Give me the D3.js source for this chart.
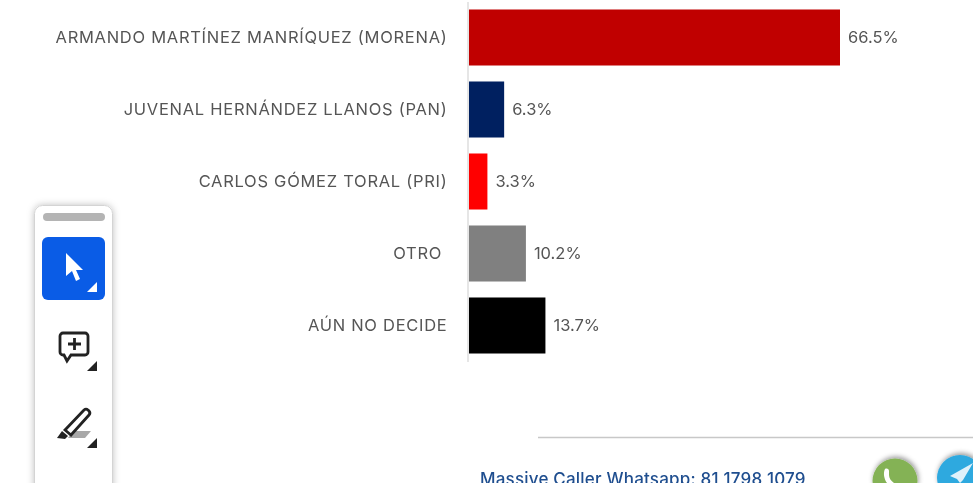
<!DOCTYPE html>
<html>
<head>
<meta charset="utf-8">
<script src="https://d3js.org/d3.v7.min.js"></script>
<style>
  html, body { margin: 0; padding: 0; background: #fff; overflow: hidden; }
  svg { display: block; filter: blur(0.6px); }
  text { font-family: Inter, "Open Sans", sans-serif; }
</style>
</head>
<body>
<div id="chart"></div>
<script>
var candidates = [
  "ARMANDO MARTÍNEZ MANRÍQUEZ (MORENA)",
  "JUVENAL HERNÁNDEZ LLANOS (PAN)",
  "CARLOS GÓMEZ TORAL (PRI)",
  "OTRO ",
  "AÚN NO DECIDE"
];
var percents = [66.5, 6.3, 3.3, 10.2, 13.7];
var barColors = ["#c00000", "#002060", "#ff0000", "#808080", "#000000"];

var width = 980, height = 483;
var svg = d3.select("#chart").append("svg")
  .attr("width", width)
  .attr("height", height);

var xScale = d3.scaleLinear().domain([0, 66.5]).range([469, 840]);
var yScale = d3.scaleBand().domain(candidates).range([1.5, 361.5]).paddingInner(0.222).paddingOuter(0.111);

// axis with the category labels
var yAxis = svg.append("g")
  .attr("transform", "translate(467.5,0)")
  .call(d3.axisLeft(yScale).tickSize(0).tickPadding(20));
yAxis.select(".domain").attr("stroke", "#dedede").attr("stroke-width", 1.5);
yAxis.selectAll("text")
  .attr("fill", "#555")
  .attr("dy", "0.36em")
  .style("font-size", "16.5px")
  .style("font-family", "Inter, sans-serif")
  .style("letter-spacing", "0.72px")
  .style("white-space", "pre")
  .text(function(d) { return d; });

svg.selectAll(".bar").data(percents).enter().append("rect")
  .attr("class", "bar")
  .attr("x", xScale(0))
  .attr("y", function(d, i) { return yScale(candidates[i]); })
  .attr("width", function(d) { return xScale(d) - xScale(0); })
  .attr("height", yScale.bandwidth())
  .attr("fill", function(d, i) { return barColors[i]; });

svg.selectAll(".pct").data(percents).enter().append("text")
  .attr("class", "pct")
  .attr("x", function(d) { return xScale(d) + 8; })
  .attr("y", function(d, i) { return yScale(candidates[i]) + yScale.bandwidth() / 2; })
  .attr("dy", "0.34em")
  .attr("fill", "#555")
  .style("font-size", "16.5px")
  .text(function(d) { return d.toFixed(1) + "%"; });

// footer of the page behind the chart
svg.append("line")
  .attr("x1", 538).attr("x2", 980)
  .attr("y1", 437.5).attr("y2", 437.5)
  .attr("stroke", "#c8c8c8").attr("stroke-width", 1.5);

svg.append("text")
  .attr("x", 480).attr("y", 484.5)
  .attr("fill", "#1f4e8f")
  .style("font-size", "17px")
  .style("font-weight", 500)
  .style("letter-spacing", "0.2px")
  .text("Massive Caller Whatsapp: 81 1798 1079");

var defs = svg.append("defs");
defs.append("filter").attr("id", "soft").attr("x", "-40%").attr("y", "-40%").attr("width", "180%").attr("height", "180%")
  .append("feDropShadow")
  .attr("dx", 0).attr("dy", 0).attr("stdDeviation", 3.5).attr("flood-color", "#000").attr("flood-opacity", 0.25);
defs.append("filter").attr("id", "iconShadow").attr("x", "-40%").attr("y", "-40%").attr("width", "180%").attr("height", "180%")
  .append("feDropShadow")
  .attr("dx", 1).attr("dy", -2).attr("stdDeviation", 2.5).attr("flood-color", "#000").attr("flood-opacity", 0.4);

svg.append("circle").attr("cx", 895).attr("cy", 481).attr("r", 22.5).attr("fill", "#84b254").attr("filter", "url(#iconShadow)");
svg.append("path").attr("d", "M885 469c2-1 4 0 4 2l0 4c0 3 2 6 5 8h-7c-3-4-4-10-2-14z").attr("fill", "#fff");
svg.append("circle").attr("cx", 960).attr("cy", 478).attr("r", 23).attr("fill", "#2ea9df").attr("filter", "url(#iconShadow)");
svg.append("path").attr("d", "M973 463l-23 13 7 3 3 4 3-3z").attr("fill", "#dff1fa");
// the page stops short of the right edge of the window
svg.append("rect").attr("x", 973).attr("y", 0).attr("width", 7).attr("height", 483).attr("fill", "#fff");

// drawing toolbar floating over the page
var tools = svg.append("g");
tools.append("rect")
  .attr("x", 34.5).attr("y", 205.5).attr("width", 78).attr("height", 300).attr("rx", 8)
  .attr("fill", "#fff").attr("stroke", "#d4d4d4").attr("filter", "url(#soft)");
tools.append("rect").attr("x", 43).attr("y", 213).attr("width", 62).attr("height", 8).attr("rx", 4).attr("fill", "#b4b4b4");
tools.append("rect").attr("x", 42).attr("y", 237).attr("width", 63).attr("height", 63).attr("rx", 6).attr("fill", "#0a5ce6");
tools.append("path").attr("d", "M66 253v23l6-5 4 10 4-2-4-9h7z").attr("fill", "#fff");
tools.append("path").attr("d", "M97 282v10h-10z").attr("fill", "#fff");
tools.append("path")
  .attr("d", "M63 333h22a3 3 0 0 1 3 3v16a3 3 0 0 1-3 3h-14l-4 6-3-6h-1a3 3 0 0 1-3-3v-16a3 3 0 0 1 3-3z")
  .attr("fill", "none").attr("stroke", "#222").attr("stroke-width", 2.8);
tools.append("path").attr("d", "M68 344h13M74.500 338v12").attr("stroke", "#222").attr("stroke-width", 2.8);
tools.append("path").attr("d", "M97 361v10h-10z").attr("fill", "#222");
tools.append("path").attr("d", "M73 431h18l-6 7h-17z").attr("fill", "#a8a8a8");
tools.append("path")
  .attr("d", "M65 430l19-20a3 3 0 0 1 4 0l1 1a3 3 0 0 1 0 4l-18 20z")
  .attr("fill", "#fff").attr("stroke", "#222").attr("stroke-width", 2.8);
tools.append("path").attr("d", "M57 438l5-7 6 5-3 3z").attr("fill", "#222");
tools.append("path").attr("d", "M97 438v10h-10z").attr("fill", "#222");
</script>
</body>
</html>
